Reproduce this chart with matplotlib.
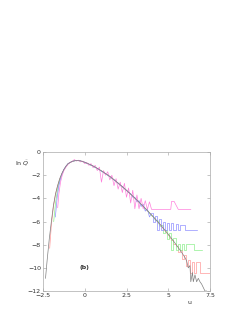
import matplotlib
matplotlib.use("Agg")
import matplotlib.pyplot as plt

# grey (reference) curve
u_gray = [-2.35, -2.25, -2.125, -2.0, -1.875, -1.75, -1.625, -1.5, -1.375, -1.25, -1.125, -1.0,
          -0.75, -0.5, -0.25, 0.0, 0.25, 0.5, 0.75, 1.0, 1.25, 1.5, 1.75, 2.0, 2.25, 2.5, 2.75,
          3.0, 3.25, 3.5, 3.75, 4.0, 4.25, 4.5, 4.75, 5.0, 5.25, 5.5, 5.75, 6.0, 6.1, 6.2, 6.3,
          6.35, 6.45, 6.5, 6.6, 6.7, 6.8, 6.9, 7.0, 7.1, 7.2, 7.3]
y_gray = [-10.9, -9.3, -7.5, -6.0, -4.6, -3.6, -2.9, -2.3, -1.85, -1.5, -1.22, -1.0,
          -0.8, -0.72, -0.76, -0.88, -1.03, -1.2, -1.4, -1.62, -1.86, -2.1, -2.38, -2.68, -2.98,
          -3.3, -3.63, -3.97, -4.32, -4.68, -5.05, -5.43, -5.82, -6.22, -6.65, -7.1, -7.56,
          -8.05, -8.55, -9.1, -9.4, -10.0, -9.8, -11.2, -10.4, -11.2, -10.6, -11.2, -10.9,
          -11.2, -11.4, -11.7, -12.0, -12.0]

u_pink = [-1.62, -1.55, -1.45, -1.35, -1.25, -1.125, -1.0, -0.875, -0.75, -0.625, -0.5, -0.375,
          -0.25, -0.125, 0.0, 0.125, 0.25, 0.375, 0.5, 0.625, 0.75, 0.875, 1.0, 1.125, 1.25,
          1.375, 1.5, 1.625, 1.75, 1.875, 2.0, 2.125, 2.25, 2.375, 2.5, 2.625, 2.75, 2.875,
          3.0, 3.125, 3.25, 3.375, 3.5, 3.625, 3.75, 3.875, 4.0, 5.15, 5.2, 5.35, 5.6, 6.35]
y_pink = [-4.8, -3.6, -2.6, -2.0, -1.6, -1.3, -1.05, -0.9, -0.82, -0.65, -0.78, -0.7,
          -0.85, -0.78, -1.0, -0.9, -1.15, -1.0, -1.35, -1.15, -1.6, -1.3, -2.6, -1.6, -2.0,
          -1.7, -2.4, -2.0, -2.9, -2.3, -3.2, -2.6, -3.5, -2.7, -3.9, -3.1, -4.4, -3.3,
          -4.9, -3.7, -4.9, -4.0, -4.9, -4.2, -4.95, -4.3, -4.95, -4.95, -4.26, -4.26, -4.95, -4.95]

u_blue = [-1.76, -1.65, -1.55, -1.45, -1.35, -1.25, -1.125, -1.0, -0.75, -0.5, -0.25, 0.0, 0.25,
          0.5, 0.75, 1.0, 1.25, 1.5, 1.75, 2.0, 2.25, 2.5, 2.75, 2.875, 3.0, 3.125, 3.25, 3.375,
          3.5, 3.625, 3.75, 3.875, 4.0, 4.125, 4.25, 4.375, 4.5, 4.625, 4.75, 4.875, 5.0, 5.125,
          5.25, 5.375, 5.5, 5.625, 5.75, 5.9, 6.05, 6.75]
y_blue = [-5.6, -3.9, -2.9, -2.3, -1.85, -1.5, -1.22, -1.0, -0.8, -0.72, -0.77, -0.88, -1.05,
          -1.22, -1.42, -1.65, -1.88, -2.12, -2.4, -2.7, -3.0, -3.32, -3.6, -3.9, -3.9, -4.3,
          -4.2, -4.7, -4.5, -5.1, -4.9, -5.6, -5.3, -6.0, -5.5, -6.7, -5.8, -6.7, -6.0, -6.7,
          -6.1, -6.7, -6.1, -6.7, -6.2, -6.7, -6.3, -6.3, -6.7, -6.7]

u_green = [-1.86, -1.75, -1.625, -1.5, -1.375, -1.25, -1.125, -1.0, -0.75, -0.5, -0.25, 0.0, 0.5,
           1.0, 1.5, 2.0, 2.5, 3.0, 3.25, 3.5, 3.75, 4.0, 4.125, 4.25, 4.375, 4.5, 4.625, 4.75,
           4.875, 5.0, 5.125, 5.25, 5.375, 5.5, 5.625, 5.75, 5.875, 6.0, 6.1, 6.5, 6.55, 7.0]
y_green = [-6.0, -4.4, -3.2, -2.45, -1.95, -1.55, -1.25, -1.02, -0.8, -0.73, -0.77, -0.9, -1.23,
           -1.65, -2.13, -2.7, -3.32, -4.0, -4.35, -4.7, -5.05, -5.5, -5.6, -5.95, -5.9, -6.4,
           -6.3, -7.0, -6.7, -7.5, -7.0, -8.45, -7.4, -8.45, -7.9, -8.45, -7.9, -8.45, -7.9,
           -7.9, -8.45, -8.45]

u_red = [-2.1, -2.0, -1.875, -1.75, -1.625, -1.5, -1.375, -1.25, -1.125, -1.0, -0.75, -0.5, -0.25,
         0.0, 0.5, 1.0, 1.5, 2.0, 2.5, 3.0, 3.5, 4.0, 4.25, 4.5, 4.75, 5.0, 5.125, 5.25, 5.375,
         5.5, 5.625, 5.75, 5.875, 6.0, 6.125, 6.25, 6.375, 6.5, 6.625, 6.7, 6.9, 6.95, 7.5]
y_red = [-8.3, -6.3, -4.7, -3.65, -2.9, -2.35, -1.9, -1.52, -1.24, -1.02, -0.8, -0.72, -0.77,
         -0.88, -1.21, -1.63, -2.11, -2.69, -3.31, -3.98, -4.7, -5.45, -5.85, -6.25, -6.7, -7.15,
         -7.4, -7.6, -7.9, -8.1, -8.6, -8.5, -9.2, -8.9, -9.8, -9.3, -10.45, -9.5, -10.45, -9.5,
         -9.5, -10.45, -10.45]

x_ticks = [-2.5, 0, 2.5, 5, 7.5]
x_ticklabels = ["\u22122.5", "0", "2.5", "5", "7.5"]
y_ticks = [0, -2, -4, -6, -8, -10, -12]
y_ticklabels = ["0", "\u22122", "\u22124", "\u22126", "\u22128", "\u221210", "\u221212"]

fig = plt.figure(figsize=(2.53, 3.27), dpi=100)
ax = fig.add_axes([0.170, 0.110, 0.660, 0.425])

lw = 0.5


def draw(u, y, start_noise_u, color):
    k = next(i for i, v in enumerate(u) if v >= start_noise_u)
    ax.plot(u[:k + 1], y[:k + 1], color=color, lw=lw)
    ax.plot(u[k:], y[k:], color=color, lw=lw, drawstyle="steps-mid")


draw(u_red, y_red, 5.0, "#ff9a9a")
draw(u_green, y_green, 4.5, "#8ef08e")
draw(u_blue, y_blue, 4.0, "#9090ff")
ax.plot(u_pink, y_pink, color="#ff80dc", lw=lw)
ax.plot(u_gray, y_gray, color="#808080", lw=lw)

ax.set_xlim(-2.5, 7.5)
ax.set_ylim(-12, 0)
ax.set_xticks(x_ticks)
ax.set_xticklabels(x_ticklabels)
ax.set_yticks(y_ticks)
ax.set_yticklabels(y_ticklabels)
ax.tick_params(direction="in", length=2, width=0.4, labelsize=4.5, pad=1.5,
               top=True, right=True, colors="#999999", labelcolor="#333333")
for s in ax.spines.values():
    s.set_linewidth(0.5)
    s.set_color("#aaaaaa")

ax.text(-0.125, 0.92, r"ln $\tilde{Q}$", transform=ax.transAxes, fontsize=4.5,
        color="#333333", ha="center", va="center")
ax.text(0.88, -0.085, "u", transform=ax.transAxes, fontsize=4.5, color="#333333",
        ha="center", va="center")
ax.text(0.0, -10.0, "(b)", fontsize=4.5, color="#333333", ha="center", va="center",
        fontweight="bold")

fig.savefig("out.png", dpi=100)
